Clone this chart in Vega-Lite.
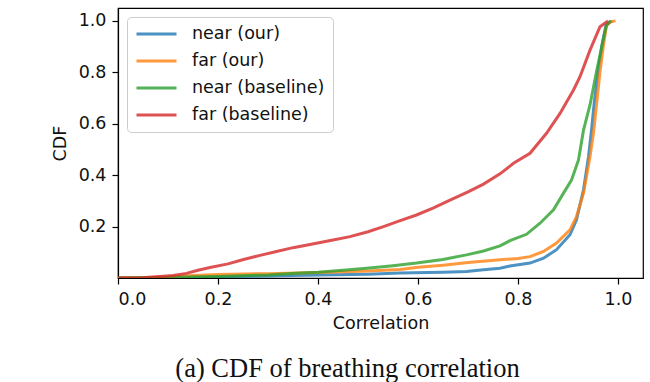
{
  "$schema": "https://vega.github.io/schema/vega-lite/v6.json",
  "width": 525,
  "height": 270,
  "autosize": {"type": "none"},
  "padding": {"left": 118, "top": 8, "right": 7, "bottom": 104},
  "background": "white",
  "config": {
    "font": "DejaVu Sans",
    "view": {"stroke": "black", "strokeWidth": 1.2},
    "axis": {
      "grid": false,
      "domainColor": "black",
      "domainWidth": 1.2,
      "tickColor": "black",
      "tickWidth": 1.2,
      "tickSize": 6,
      "labelFont": "DejaVu Sans",
      "labelFontSize": 17.5,
      "labelColor": "#111111",
      "titleFont": "DejaVu Sans",
      "titleFontSize": 17.5,
      "titleFontWeight": "normal",
      "titleColor": "#111111"
    },
    "legend": {
      "labelFont": "DejaVu Sans",
      "labelFontSize": 17.5,
      "labelColor": "#111111"
    }
  },
  "title": {
    "text": "(a) CDF of breathing correlation",
    "orient": "bottom",
    "anchor": "middle",
    "font": "Liberation Serif",
    "fontSize": 26.5,
    "fontWeight": "normal",
    "color": "#111111",
    "offset": 24,
    "dx": -33
  },
  "data": {
    "values": [
      {"series": "near (our)", "corr": 0.0, "cdf": 0.0},
      {"series": "near (our)", "corr": 0.1, "cdf": 0.002},
      {"series": "near (our)", "corr": 0.2, "cdf": 0.005},
      {"series": "near (our)", "corr": 0.3, "cdf": 0.008},
      {"series": "near (our)", "corr": 0.4, "cdf": 0.012},
      {"series": "near (our)", "corr": 0.5, "cdf": 0.015},
      {"series": "near (our)", "corr": 0.564, "cdf": 0.019},
      {"series": "near (our)", "corr": 0.65, "cdf": 0.022},
      {"series": "near (our)", "corr": 0.697, "cdf": 0.025},
      {"series": "near (our)", "corr": 0.731, "cdf": 0.032},
      {"series": "near (our)", "corr": 0.764, "cdf": 0.038},
      {"series": "near (our)", "corr": 0.784, "cdf": 0.047},
      {"series": "near (our)", "corr": 0.824, "cdf": 0.058},
      {"series": "near (our)", "corr": 0.851, "cdf": 0.077},
      {"series": "near (our)", "corr": 0.877, "cdf": 0.11},
      {"series": "near (our)", "corr": 0.904, "cdf": 0.168},
      {"series": "near (our)", "corr": 0.917, "cdf": 0.226},
      {"series": "near (our)", "corr": 0.931, "cdf": 0.343},
      {"series": "near (our)", "corr": 0.941, "cdf": 0.472},
      {"series": "near (our)", "corr": 0.947, "cdf": 0.575},
      {"series": "near (our)", "corr": 0.952, "cdf": 0.673},
      {"series": "near (our)", "corr": 0.96, "cdf": 0.8},
      {"series": "near (our)", "corr": 0.968, "cdf": 0.906},
      {"series": "near (our)", "corr": 0.976, "cdf": 0.983},
      {"series": "near (our)", "corr": 0.988, "cdf": 1.0},

      {"series": "far (our)", "corr": 0.0, "cdf": 0.0},
      {"series": "far (our)", "corr": 0.1, "cdf": 0.004},
      {"series": "far (our)", "corr": 0.15, "cdf": 0.01},
      {"series": "far (our)", "corr": 0.2, "cdf": 0.014},
      {"series": "far (our)", "corr": 0.3, "cdf": 0.017},
      {"series": "far (our)", "corr": 0.4, "cdf": 0.021},
      {"series": "far (our)", "corr": 0.5, "cdf": 0.027},
      {"series": "far (our)", "corr": 0.564, "cdf": 0.033},
      {"series": "far (our)", "corr": 0.6, "cdf": 0.042},
      {"series": "far (our)", "corr": 0.65, "cdf": 0.05},
      {"series": "far (our)", "corr": 0.7, "cdf": 0.06},
      {"series": "far (our)", "corr": 0.764, "cdf": 0.071},
      {"series": "far (our)", "corr": 0.8, "cdf": 0.076},
      {"series": "far (our)", "corr": 0.824, "cdf": 0.083},
      {"series": "far (our)", "corr": 0.851, "cdf": 0.103},
      {"series": "far (our)", "corr": 0.877, "cdf": 0.136},
      {"series": "far (our)", "corr": 0.904, "cdf": 0.187},
      {"series": "far (our)", "corr": 0.917, "cdf": 0.239},
      {"series": "far (our)", "corr": 0.931, "cdf": 0.33},
      {"series": "far (our)", "corr": 0.944, "cdf": 0.472},
      {"series": "far (our)", "corr": 0.951, "cdf": 0.565},
      {"series": "far (our)", "corr": 0.957, "cdf": 0.673},
      {"series": "far (our)", "corr": 0.964, "cdf": 0.802},
      {"series": "far (our)", "corr": 0.971, "cdf": 0.906},
      {"series": "far (our)", "corr": 0.977, "cdf": 0.983},
      {"series": "far (our)", "corr": 0.985, "cdf": 0.996},
      {"series": "far (our)", "corr": 0.995, "cdf": 1.0},

      {"series": "near (baseline)", "corr": 0.0, "cdf": 0.0},
      {"series": "near (baseline)", "corr": 0.1, "cdf": 0.002},
      {"series": "near (baseline)", "corr": 0.2, "cdf": 0.006},
      {"series": "near (baseline)", "corr": 0.3, "cdf": 0.012},
      {"series": "near (baseline)", "corr": 0.364, "cdf": 0.019},
      {"series": "near (baseline)", "corr": 0.4, "cdf": 0.022},
      {"series": "near (baseline)", "corr": 0.45, "cdf": 0.03},
      {"series": "near (baseline)", "corr": 0.497, "cdf": 0.038},
      {"series": "near (baseline)", "corr": 0.55, "cdf": 0.048},
      {"series": "near (baseline)", "corr": 0.597, "cdf": 0.058},
      {"series": "near (baseline)", "corr": 0.65, "cdf": 0.072},
      {"series": "near (baseline)", "corr": 0.697, "cdf": 0.09},
      {"series": "near (baseline)", "corr": 0.731, "cdf": 0.105},
      {"series": "near (baseline)", "corr": 0.764, "cdf": 0.125},
      {"series": "near (baseline)", "corr": 0.784, "cdf": 0.145},
      {"series": "near (baseline)", "corr": 0.817, "cdf": 0.17},
      {"series": "near (baseline)", "corr": 0.844, "cdf": 0.213},
      {"series": "near (baseline)", "corr": 0.871, "cdf": 0.265},
      {"series": "near (baseline)", "corr": 0.891, "cdf": 0.33},
      {"series": "near (baseline)", "corr": 0.907, "cdf": 0.381},
      {"series": "near (baseline)", "corr": 0.921, "cdf": 0.459},
      {"series": "near (baseline)", "corr": 0.931, "cdf": 0.575},
      {"series": "near (baseline)", "corr": 0.944, "cdf": 0.673},
      {"series": "near (baseline)", "corr": 0.957, "cdf": 0.802},
      {"series": "near (baseline)", "corr": 0.971, "cdf": 0.932},
      {"series": "near (baseline)", "corr": 0.977, "cdf": 0.983},
      {"series": "near (baseline)", "corr": 0.985, "cdf": 1.0},

      {"series": "far (baseline)", "corr": 0.0, "cdf": 0.0},
      {"series": "far (baseline)", "corr": 0.05, "cdf": 0.001},
      {"series": "far (baseline)", "corr": 0.084, "cdf": 0.006},
      {"series": "far (baseline)", "corr": 0.11, "cdf": 0.01},
      {"series": "far (baseline)", "corr": 0.137, "cdf": 0.018},
      {"series": "far (baseline)", "corr": 0.16, "cdf": 0.03},
      {"series": "far (baseline)", "corr": 0.184, "cdf": 0.041},
      {"series": "far (baseline)", "corr": 0.22, "cdf": 0.055},
      {"series": "far (baseline)", "corr": 0.251, "cdf": 0.072},
      {"series": "far (baseline)", "corr": 0.284, "cdf": 0.088},
      {"series": "far (baseline)", "corr": 0.317, "cdf": 0.103},
      {"series": "far (baseline)", "corr": 0.35, "cdf": 0.118},
      {"series": "far (baseline)", "corr": 0.384, "cdf": 0.13},
      {"series": "far (baseline)", "corr": 0.43, "cdf": 0.148},
      {"series": "far (baseline)", "corr": 0.464, "cdf": 0.161},
      {"series": "far (baseline)", "corr": 0.5, "cdf": 0.18},
      {"series": "far (baseline)", "corr": 0.531, "cdf": 0.2},
      {"series": "far (baseline)", "corr": 0.56, "cdf": 0.22},
      {"series": "far (baseline)", "corr": 0.597, "cdf": 0.245},
      {"series": "far (baseline)", "corr": 0.63, "cdf": 0.272},
      {"series": "far (baseline)", "corr": 0.664, "cdf": 0.303},
      {"series": "far (baseline)", "corr": 0.7, "cdf": 0.335},
      {"series": "far (baseline)", "corr": 0.731, "cdf": 0.365},
      {"series": "far (baseline)", "corr": 0.764, "cdf": 0.405},
      {"series": "far (baseline)", "corr": 0.791, "cdf": 0.446},
      {"series": "far (baseline)", "corr": 0.824, "cdf": 0.485},
      {"series": "far (baseline)", "corr": 0.857, "cdf": 0.563},
      {"series": "far (baseline)", "corr": 0.884, "cdf": 0.64},
      {"series": "far (baseline)", "corr": 0.911, "cdf": 0.731},
      {"series": "far (baseline)", "corr": 0.924, "cdf": 0.783},
      {"series": "far (baseline)", "corr": 0.944, "cdf": 0.886},
      {"series": "far (baseline)", "corr": 0.964, "cdf": 0.977},
      {"series": "far (baseline)", "corr": 0.98, "cdf": 1.0}
    ]
  },
  "mark": {"type": "line", "strokeWidth": 3, "opacity": 0.8, "clip": true},
  "encoding": {
    "x": {
      "field": "corr",
      "type": "quantitative",
      "scale": {"domain": [0, 1.05], "nice": false, "zero": false},
      "axis": {
        "title": "Correlation",
        "values": [0, 0.2, 0.4, 0.6, 0.8, 1.0],
        "format": ".1f",
        "labelPadding": 6,
        "titlePadding": 7
      }
    },
    "y": {
      "field": "cdf",
      "type": "quantitative",
      "scale": {"domain": [0, 1.05], "nice": false, "zero": false},
      "axis": {
        "title": "CDF",
        "values": [0.2, 0.4, 0.6, 0.8, 1.0],
        "format": ".1f",
        "labelPadding": 6,
        "titlePadding": 9
      }
    },
    "color": {
      "field": "series",
      "type": "nominal",
      "sort": ["near (our)", "far (our)", "near (baseline)", "far (baseline)"],
      "scale": {
        "domain": ["near (our)", "far (our)", "near (baseline)", "far (baseline)"],
        "range": ["#1f77b4", "#ff7f0e", "#2ca02c", "#d62728"]
      },
      "legend": {
        "title": null,
        "orient": "top-left",
        "offset": 9,
        "padding": 8,
        "strokeColor": "#cccccc",
        "fillColor": "white",
        "cornerRadius": 4,
        "symbolType": "stroke",
        "symbolSize": 1600,
        "symbolStrokeWidth": 3,
        "symbolOpacity": 0.8,
        "clipHeight": 18,
        "rowPadding": 9,
        "labelOffset": 14
      }
    }
  }
}
